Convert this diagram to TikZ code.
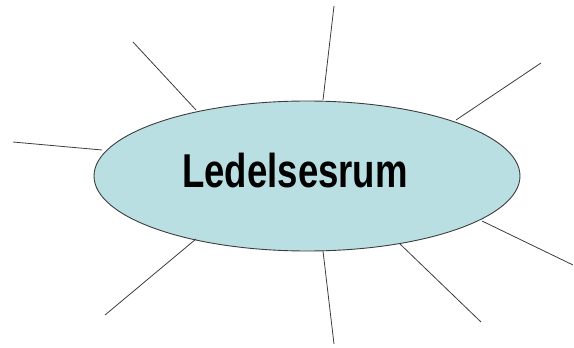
\documentclass[tikz,border=0pt]{standalone}
\usepackage{fontspec}
\setmainfont{Liberation Sans}
\usetikzlibrary{shapes.geometric}
\definecolor{ellfill}{RGB}{186,223,227}
\definecolor{linegrey}{RGB}{60,60,60}
\tikzset{
  spoke/.style={draw=linegrey, line width=0.8pt},
  bubble/.style={ellipse, draw=linegrey, line width=0.9pt, fill=ellfill, minimum width=426pt, minimum height=150pt, inner sep=0pt},
}
\begin{document}
\begin{tikzpicture}[x=1pt,y=-1pt]
\useasboundingbox (0,0) rectangle (574,348);
\node[bubble] (ell) at (307,176) {};
\node[anchor=base, font=\bfseries\fontsize{47.5}{50}\selectfont, xscale=0.77] (title) at (295,187) {Ledelsesrum};
\coordinate (o1) at (133,42);  \coordinate (i1) at (196,110);
\coordinate (o2) at (334,6);   \coordinate (i2) at (323,100);
\coordinate (o3) at (541,63);  \coordinate (i3) at (456,120);
\coordinate (o4) at (13,142);  \coordinate (i4) at (102,150);
\coordinate (o5) at (573,265); \coordinate (i5) at (482,221);
\coordinate (o6) at (105,315); \coordinate (i6) at (196,239);
\coordinate (o7) at (334,344); \coordinate (i7) at (323,251);
\coordinate (o8) at (481,322); \coordinate (i8) at (400,244);
\foreach \k in {1,...,8} {\draw[spoke] (o\k) -- (i\k);}
\end{tikzpicture}
\end{document}
